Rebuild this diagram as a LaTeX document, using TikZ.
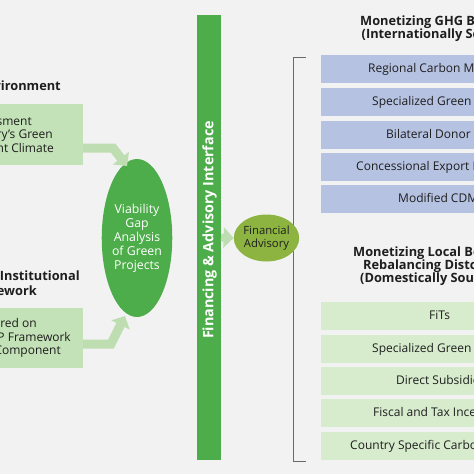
\documentclass[tikz,border=0pt]{standalone}
\usepackage{fontspec}
\setmainfont{Open Sans}
\usetikzlibrary{arrows.meta,shapes.geometric}
\definecolor{bg}{HTML}{F2F2F2}
\definecolor{barg}{HTML}{4DAD4A}
\definecolor{lgbox}{HTML}{C4E2B7}
\definecolor{rgbox}{HTML}{D6ECCC}
\definecolor{bluebox}{HTML}{B6C2E2}
\definecolor{arrowg}{HTML}{BEDDB1}
\definecolor{olive}{HTML}{8DB441}
\definecolor{txt}{HTML}{1E1E1E}
\definecolor{brk}{HTML}{6A6A6A}
\begin{document}
\begin{tikzpicture}[x=1pt,y=-1pt,
  lbl/.style={font=\fontsize{12}{13.5}\selectfont, text=txt, inner sep=0pt, text height=1.5ex, text depth=.25ex},
  ttl/.style={lbl, font=\fontsize{12.8}{13.5}\selectfont\bfseries},
  bx/.style={rectangle, inner sep=0pt, minimum height=28pt, minimum width=220pt, anchor=north west},
  lbx/.style={rectangle, fill=lgbox, inner sep=0pt, anchor=north west},
  fat/.style={line width=9pt, draw=arrowg, -{Triangle[length=10pt,width=20pt]}},
]
\useasboundingbox (0,0) rectangle (474,474);
\clip (0,0) rectangle (474,474);
\fill[bg] (0,0) rectangle (474,474);

% bracket
\coordinate (bt) at (306,57);
\coordinate (bb) at (306,461);
\draw[brk, line width=0.8pt] (bt) -- (293,57) -- (293,461) -- (bb);

% left titles and boxes
\node[ttl, anchor=east] (t1) at (61,87) {vironment};
\node[lbx, minimum width=103pt, minimum height=61pt] (lb1) at (-20,104) {};
\node[lbl, anchor=east] (l11) at (32,122) {sment};
\node[lbl, anchor=east] (l12) at (53,135.5) {ry's Green};
\node[lbl, anchor=east] (l13) at (54,149) {nt Climate};

\node[ttl, anchor=east] (t2a) at (80,277) {\& Institutional};
\node[ttl, anchor=east] (t2b) at (37,292.5) {ework};
\node[lbx, minimum width=103pt, minimum height=60pt] (lb2) at (-20,308) {};
\node[lbl, anchor=east] (l21) at (37,324.5) {red on};
\node[lbl, anchor=east] (l22) at (71,338) {P Framework};
\node[lbl, anchor=east] (l23) at (61,351.5) {Component};

% viability ellipse
\node[ellipse, fill=barg, inner sep=0pt, minimum width=70pt, minimum height=158pt,
      text=white, align=center, font=\fontsize{12.3}{14}\selectfont] (via) at (137,238)
      {Viability\\Gap\\Analysis\\of Green\\Projects};

% bent arrows
\coordinate (a1s) at (83,148);
\coordinate (a1m) at (113,148);
\coordinate (a1e) at (127,166);
\draw[fat, line join=miter] (a1s) -- (a1m) -- (a1e);
\coordinate (a2s) at (83,344);
\coordinate (a2m) at (111,344);
\coordinate (a2e) at (125,316);
\draw[fat, line join=miter] (a2s) -- (a2m) -- (a2e);

% vertical bar
\node[rectangle, fill=barg, inner sep=0pt, minimum width=24pt, minimum height=445pt, anchor=north west] (bar) at (197,15) {};
\node[rotate=90, text=white, inner sep=0pt, font=\fontsize{14.3}{15}\selectfont\bfseries] (bart) at (209.5,230) {Financing \& Advisory Interface};

% financial advisory
\node[ellipse, fill=olive, inner sep=0pt, minimum width=48pt, minimum height=47pt,
      text=txt, align=center, font=\fontsize{11.3}{13.5}\selectfont] (fa) at (266.5,238) {Financial\\Advisory};
\coordinate (bare) at (221,237.5);
\draw[line width=8pt, draw=arrowg, -{Triangle[length=10pt,width=20pt]}] (bare) -- (fa.west);

% right group 1
\node[ttl, anchor=west] (r1a) at (360,22.5) {Monetizing GHG B};
\node[ttl, anchor=west] (r1b) at (361.5,35.5) {(Internationally Sc};
\foreach \yy/\xx/\tt [count=\i] in {55/368/Regional Carbon M, 88/372/Specialized Green, 121/386/Bilateral Donor, 153/356/Concessional Export F, 185/398/Modified CDM}{
  \node[bx, fill=bluebox] (gb\i) at (321,\yy) {};
  \node[lbl, anchor=west] (gt\i) at (\xx,\yy+14) {\tt};
}

% right group 2
\node[ttl, anchor=west] (r2a) at (353,253) {Monetizing Local Be};
\node[ttl, anchor=west] (r2b) at (363,266) {Rebalancing Distc};
\node[ttl, anchor=west] (r2c) at (360,279) {(Domestically Sou};
\foreach \yy/\xx/\tt [count=\i] in {302/429/FiTs, 335/372/Specialized Green, 367/396/Direct Subsidie, 399/373/Fiscal and Tax Ince, 432/350/Country Specific Carbo}{
  \node[bx, fill=rgbox] (db\i) at (321,\yy) {};
  \node[lbl, anchor=west] (dt\i) at (\xx,\yy+14) {\tt};
}
\end{tikzpicture}
\end{document}
